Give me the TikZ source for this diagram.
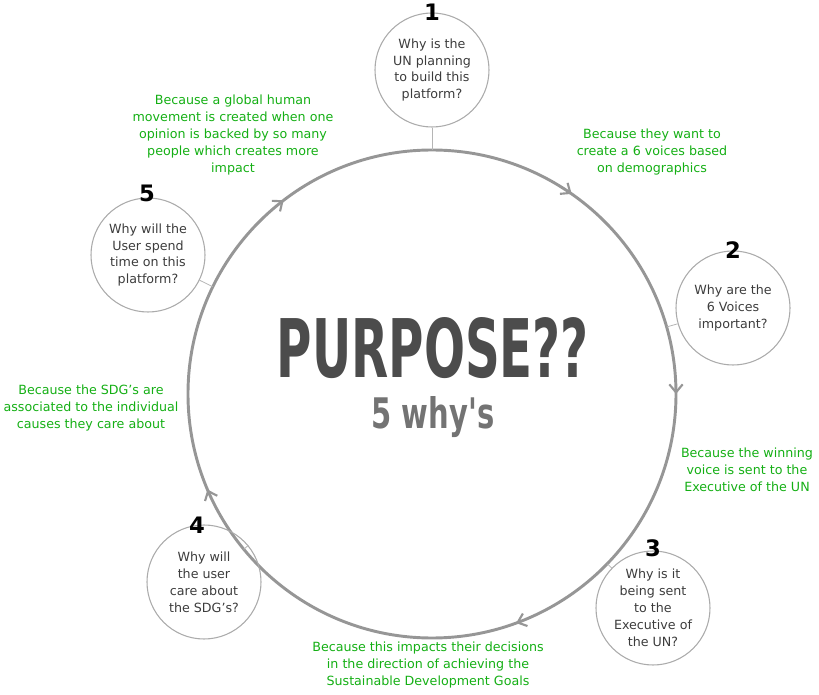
\documentclass[tikz,border=0pt]{standalone}
\usepackage{fontspec}
\setmainfont{DejaVu Sans}
\newfontfamily\titlefont{DejaVu Sans Condensed Bold}
\usetikzlibrary{arrows.meta,decorations.markings}
\definecolor{ring}{RGB}{150,150,150}
\definecolor{grn}{RGB}{20,175,20}
\definecolor{txt}{RGB}{60,60,60}
\tikzset{
  q/.style={circle,draw=ring!80,line width=0.8pt,minimum size=85.5pt,align=center,text=txt,font=\fontsize{9.5}{12.7}\selectfont,inner sep=0pt},
  num/.style={font=\bfseries\fontsize{17}{17}\selectfont},
  ans/.style={text=grn,align=center,font=\fontsize{9.5}{12.7}\selectfont},
  link/.style={draw=ring!70,line width=0.6pt},
  chev/.style={ring,line width=1.6pt}
}
\begin{document}
\begin{tikzpicture}[x=0.75pt,y=0.75pt]
\useasboundingbox (0,0) rectangle (819,694);
\node[circle,minimum size=366pt,inner sep=0pt] (big) at (432,300) {};
\draw[ring,line width=2.2pt,postaction={decorate},decoration={markings,
  mark=at position 0.097 with {\arrow[chev]{Straight Barb[length=6pt,width=10pt]}},
  mark=at position 0.25 with {\arrow[chev]{Straight Barb[length=6pt,width=10pt]}},
  mark=at position 0.444 with {\arrow[chev]{Straight Barb[length=6pt,width=10pt]}},
  mark=at position 0.686 with {\arrow[chev]{Straight Barb[length=6pt,width=10pt]}},
  mark=at position 0.896 with {\arrow[chev]{Straight Barb[length=6pt,width=10pt]}}}]
  (432,544) arc[start angle=90,end angle=-270,radius=244];
\node[q] (q1) at (432,624) {Why is the\\UN planning\\to build this\\platform?};
\node[q] (q2) at (733,386) {Why are the\\6 Voices\\important?};
\node[q] (q3) at (653,86) {Why is it\\being sent\\to the\\Executive of\\the UN?};
\node[q] (q4) at (204,112) {Why will\\the user\\care about\\the SDG's?};
\node[q] (q5) at (148,439) {Why will the\\User spend\\time on this\\platform?};
\foreach \i in {1,...,5} \draw[link] (q\i) -- (big);
\node[num] (n1) at (432,682) {1};
\node[num] (n2) at (733,444) {2};
\node[num] (n3) at (653,146) {3};
\node[num] (n4) at (197,169) {4};
\node[num] (n5) at (147,501) {5};
\node[ans] (a1) at (233,559) {Because a global human\\movement is created when one\\opinion is backed by so many\\people which creates more\\impact};
\node[ans] (a2) at (652,542) {Because they want to\\create a 6 voices based\\on demographics};
\node[ans] (a3) at (747,224) {Because the winning\\voice is sent to the\\Executive of the UN};
\node[ans] (a4) at (428,29) {Because this impacts their decisions\\in the direction of achieving the\\Sustainable Development Goals};
\node[ans] (a5) at (91,286) {Because the SDG's are\\associated to the individual\\causes they care about};
\node[text=black!70,inner sep=0pt] (title) at (433,346) {\resizebox{234pt}{45pt}{\titlefont PURPOSE??}};
\node[text=black!55,inner sep=0pt] (sub) at (433,277) {\resizebox{92pt}{24pt}{\titlefont 5 why's}};
\end{tikzpicture}
\end{document}
